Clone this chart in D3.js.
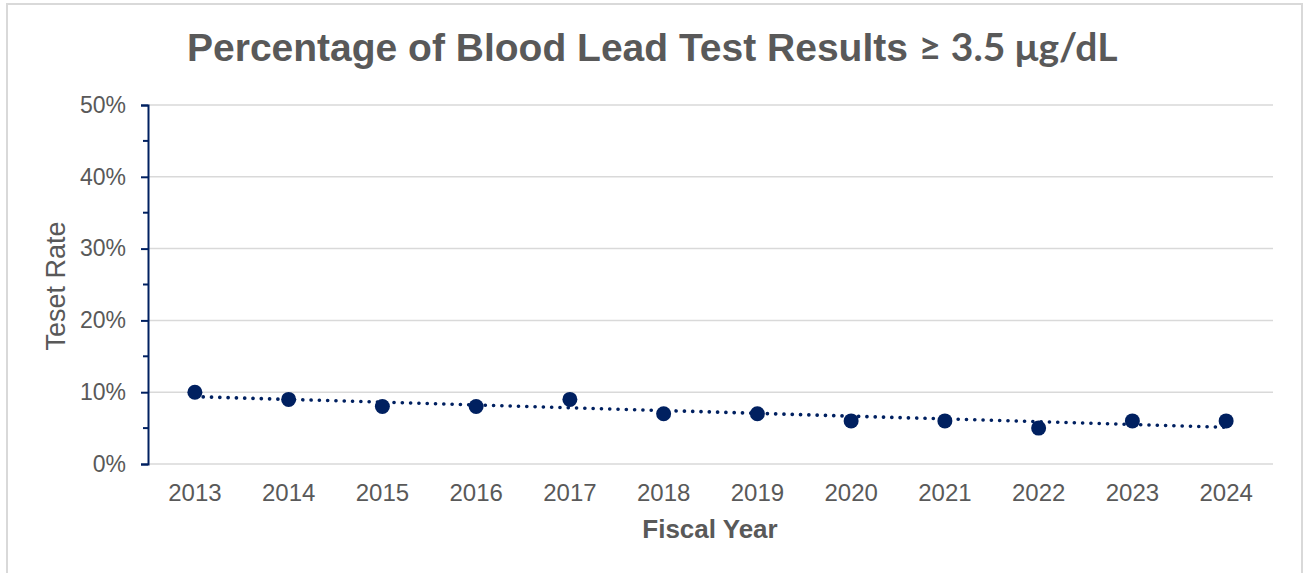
<!DOCTYPE html>
<html>
<head>
<meta charset="utf-8">
<script src="https://cdn.jsdelivr.net/npm/d3@7"></script>
<style>
  body { margin: 0; background: #fff; }
  svg { display: block; font-family: "Liberation Sans", Arial, sans-serif; }
</style>
</head>
<body>
<svg id="chart" width="1304" height="573"></svg>
<script>
// data
var years = ["2013", "2014", "2015", "2016", "2017", "2018", "2019", "2020", "2021", "2022", "2023", "2024"];
var rates = [10, 9, 8, 8, 9, 7, 7, 6, 6, 5, 6, 6];
var yTicks = [0, 10, 20, 30, 40, 50];

var margin = {top: 105, right: 31, bottom: 109, left: 148};
var width = 1304, height = 573;
var svg = d3.select("#chart");
var navy = "#002060", grey = "#595959";

// outer frame
svg.append("rect")
  .attr("x", 7).attr("y", 4)
  .attr("width", 1295).attr("height", 620)
  .attr("fill", "none").attr("stroke", "#d9d9d9").attr("stroke-width", 2);

var x = d3.scaleBand().domain(years).range([margin.left, width - margin.right]);
var y = d3.scaleLinear().domain([0, 50]).range([height - margin.bottom, margin.top]);

// gridlines
svg.append("g").selectAll("line")
  .data(yTicks)
  .join("line")
  .attr("x1", margin.left).attr("x2", width - margin.right)
  .attr("y1", d => y(d)).attr("y2", d => y(d))
  .attr("stroke", "#d9d9d9").attr("stroke-width", 1.5);

// y axis
var yAxis = d3.axisLeft(y).tickValues(yTicks).tickSize(7).tickPadding(15)
  .tickFormat(d => d + "%");
var gy = svg.append("g")
  .attr("transform", `translate(${margin.left},0)`)
  .call(yAxis);
gy.select(".domain").attr("stroke", navy).attr("stroke-width", 2);
gy.selectAll(".tick line").attr("stroke", navy).attr("stroke-width", 2);
gy.selectAll(".tick text").attr("fill", grey).style("font-size", "23px")
  .style("font-family", "Liberation Sans, Arial, sans-serif");
// minor ticks
gy.append("g").selectAll("line")
  .data([5, 15, 25, 35, 45])
  .join("line")
  .attr("x1", -5).attr("x2", 0)
  .attr("y1", d => y(d)).attr("y2", d => y(d))
  .attr("stroke", navy).attr("stroke-width", 2);

// x axis (labels only)
var gx = svg.append("g")
  .attr("transform", `translate(0,${height - margin.bottom})`)
  .call(d3.axisBottom(x).tickSize(0).tickPadding(20));
gx.select(".domain").remove();
gx.selectAll(".tick text").attr("fill", grey).style("font-size", "24px")
  .style("font-family", "Liberation Sans, Arial, sans-serif");

// linear trendline
var n = rates.length;
var mx = d3.mean(rates, (d, i) => i), my = d3.mean(rates);
var sxy = d3.sum(rates, (d, i) => (i - mx) * (d - my));
var sxx = d3.sum(rates, (d, i) => (i - mx) * (i - mx));
var slope = sxy / sxx, intercept = my - slope * mx;
var trend = [0, n - 1].map(i => ({year: years[i], v: intercept + slope * i}));
svg.append("path")
  .datum(trend)
  .attr("fill", "none")
  .attr("stroke", navy).attr("stroke-width", 3.6)
  .attr("stroke-linecap", "round")
  .attr("stroke-dasharray", "0.1 8.2")
  .attr("d", d3.line().x(d => x(d.year) + x.bandwidth() / 2).y(d => y(d.v)));

// points
svg.append("g").selectAll("circle")
  .data(rates)
  .join("circle")
  .attr("cx", (d, i) => x(years[i]) + x.bandwidth() / 2)
  .attr("cy", d => y(d))
  .attr("r", 7.5)
  .attr("fill", navy);

// title
var title = svg.append("text")
  .attr("x", 187).attr("y", 61)
  .attr("fill", grey)
  .style("font-weight", "bold")
  .style("font-size", "39px");
title.append("tspan").text("Percentage of Blood Lead Test Results ");
title.append("tspan").style("font-family", "Lato, sans-serif").style("font-size", "39px").text("≥ 3.5 μg/dL");

// axis titles
svg.append("text")
  .attr("x", 710).attr("y", 538)
  .attr("text-anchor", "middle")
  .attr("fill", grey)
  .style("font-weight", "bold").style("font-size", "26px")
  .text("Fiscal Year");

svg.append("text")
  .attr("transform", "translate(65,286) rotate(-90)")
  .attr("text-anchor", "middle")
  .attr("fill", grey)
  .style("font-size", "27px")
  .text("Teset Rate");
</script>
</body>
</html>
